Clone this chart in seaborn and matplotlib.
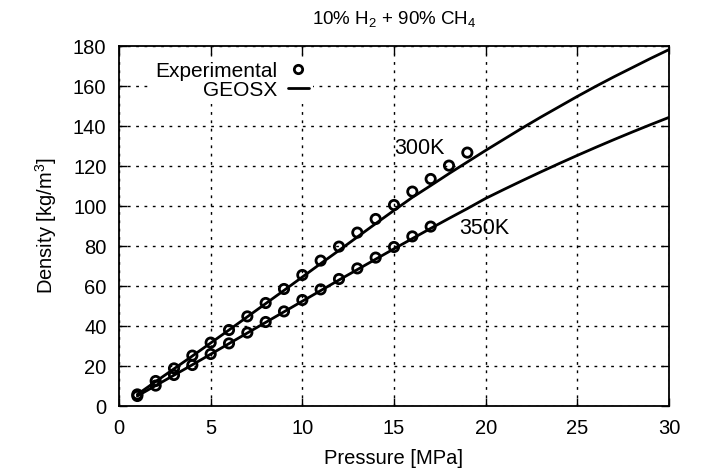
import matplotlib
matplotlib.use("Agg")
import matplotlib.pyplot as plt
from matplotlib.lines import Line2D
import seaborn as sns
import pandas as pd

# Experimental data
exp_p_300 = [1, 2, 3, 4, 5, 6, 7, 8, 9, 10, 11, 12, 13, 14, 15, 16, 17, 18, 19]
exp_d_300 = [5.8, 12.5, 18.8, 25.2, 31.7, 38.0, 44.8, 51.5, 58.5, 65.5, 72.7,
             79.7, 86.7, 93.5, 100.5, 107.2, 113.5, 120.2, 126.7]
exp_p_350 = [1, 2, 3, 4, 5, 6, 7, 8, 9, 10, 11, 12, 13, 14, 15, 16, 17]
exp_d_350 = [5.0, 10.2, 15.5, 20.5, 26.0, 31.3, 36.7, 42.0, 47.3, 53.0, 58.3,
             63.5, 68.8, 74.2, 79.5, 84.8, 89.7]

# GEOSX model curves
mod_p = list(range(1, 31))
mod_d_300 = [5.8, 12.2, 18.6, 25.0, 31.5, 38.0, 44.6, 51.2, 57.8, 64.5, 71.2,
             77.8, 84.5, 91.2, 97.8, 104.3, 110.2, 116.2, 122.0, 127.8, 133.4,
             139.0, 144.4, 149.6, 154.8, 159.8, 164.6, 169.2, 173.8, 178.2]
mod_d_350 = [5.0, 10.2, 15.4, 20.6, 25.9, 31.2, 36.5, 41.8, 47.1, 52.4, 57.7,
             63.0, 68.2, 73.4, 78.6, 83.7, 88.8, 93.8, 98.7, 103.8, 108.3,
             112.7, 117.0, 121.2, 125.3, 129.3, 133.2, 137.0, 140.7, 144.3]

x_ticks = [0, 5, 10, 15, 20, 25, 30]
y_ticks = [0, 20, 40, 60, 80, 100, 120, 140, 160, 180]

sns.set_style("ticks")
plt.rcParams['font.family'] = ['Liberation Sans', 'DejaVu Sans']
plt.rcParams['mathtext.fontset'] = 'custom'
plt.rcParams['mathtext.rm'] = 'Liberation Sans'
plt.rcParams['text.color'] = 'black'
plt.rcParams['axes.labelcolor'] = 'black'

fig = plt.figure(figsize=(7.1, 4.75), dpi=100)
ax = fig.add_axes([119 / 710, 1 - 406 / 475, (669 - 119) / 710, (406 - 46) / 475])

mod = pd.DataFrame({"p": mod_p * 2, "d": mod_d_300 + mod_d_350,
                    "T": ["300K"] * 30 + ["350K"] * 30})
sns.lineplot(data=mod, x="p", y="d", units="T", estimator=None, color="black",
             lw=2, ax=ax, legend=False)

exp = pd.DataFrame({"p": exp_p_300 + exp_p_350, "d": exp_d_300 + exp_d_350})
sns.scatterplot(data=exp, x="p", y="d", marker="o", s=45, facecolor="none",
                edgecolor="black", linewidth=2, ax=ax, legend=False, zorder=3)

ax.set_xlim(0, 30)
ax.set_ylim(0, 180)
ax.set_xticks(x_ticks)
ax.set_yticks(y_ticks)
ax.tick_params(direction="in", top=True, right=True, length=6, width=1,
               labelsize=14.5, colors="black")
ax.tick_params(axis="y", pad=9)
ax.tick_params(axis="x", pad=9)
ax.grid(True, color="black", linestyle=(0, (2, 4)), linewidth=1)
for s in ax.spines.values():
    s.set_linewidth(1.3)
    s.set_color("black")

ax.set_xlabel("Pressure [MPa]", fontsize=14.5, labelpad=8)
ax.set_ylabel("Density [kg/m$^3$]", fontsize=14.5, labelpad=10)
ax.set_title("10% H$_2$ + 90% CH$_4$", fontsize=13.5, pad=15)

ax.text(16.4, 128.7, "300K", fontsize=15.5, ha="center", va="center")
ax.text(19.9, 88.7, "350K", fontsize=15.5, ha="center", va="center")

handles = [Line2D([], [], marker="o", ls="none", mfc="none", mec="black", mew=2, ms=6),
           Line2D([], [], color="black", lw=2)]
leg = ax.legend(handles, ["Experimental", "GEOSX"], loc="upper right",
                bbox_to_anchor=(0.36, 0.98), frameon=True, markerfirst=False,
                fontsize=15, handlelength=1.0, handletextpad=0.5, labelspacing=0.0,
                borderaxespad=0.2, borderpad=0.2, fancybox=False)
leg.get_frame().set_facecolor("white")
leg.get_frame().set_edgecolor("none")
leg.get_frame().set_alpha(1)
for t in leg.get_texts():
    t.set_ha("right")
leg._legend_box.align = "right"

fig.savefig("out.png", dpi=100, facecolor="white")
